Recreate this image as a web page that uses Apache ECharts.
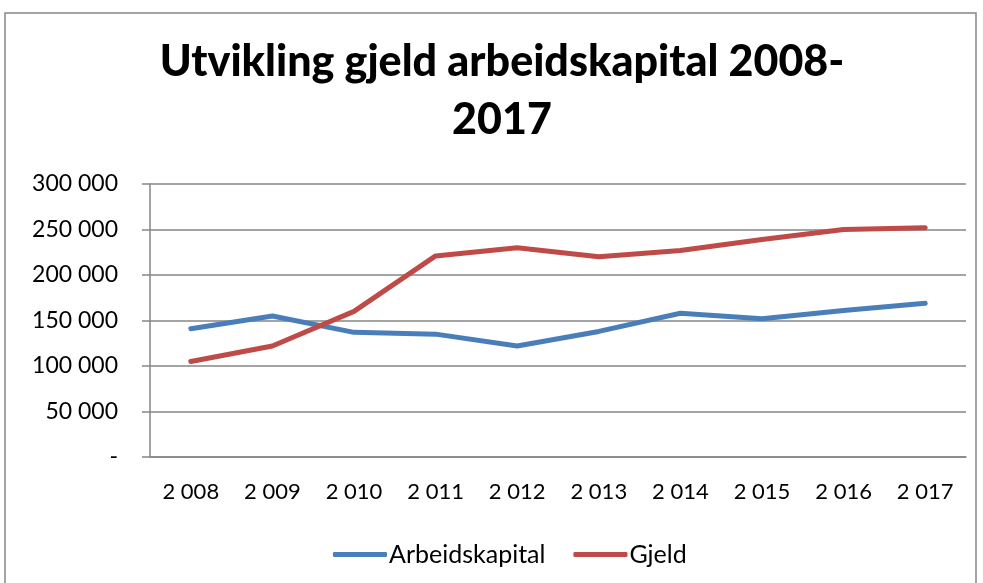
<!DOCTYPE html>
<html>
<head>
<meta charset="utf-8">
<script src="https://cdn.jsdelivr.net/npm/echarts@6/dist/echarts.min.js"></script>
<style>
  html, body { margin: 0; padding: 0; background: #fff; }
  #chart { width: 983px; height: 583px; }
</style>
</head>
<body>
<div id="chart"></div>
<script>
const years = [2008, 2009, 2010, 2011, 2012, 2013, 2014, 2015, 2016, 2017];
const arbeidskapital = [141000, 155000, 137000, 135000, 122000, 138000, 158000, 152000, 161000, 169000];
const gjeld = [105000, 122000, 160000, 221000, 230000, 220000, 227000, 239000, 250000, 252000];
const yTicks = [0, 50000, 100000, 150000, 200000, 250000, 300000];

// "2 008", "150 000" style spacing
const spaced = function(v) {
  return String(v).replace(/\B(?=(\d{3})+(?!\d))/g, " ");
};

const chart = echarts.init(document.getElementById("chart"));
const font = "Lato, 'Open Sans', sans-serif";
const grey = "#868686";

const option = {
  animation: false,
  backgroundColor: "#fff",
  textStyle: { fontFamily: font },
  graphic: [
    {
      type: "rect",
      shape: { x: 5, y: 13, width: 971, height: 600 },
      style: { fill: "none", stroke: grey, lineWidth: 1.5 }
    }
  ],
  title: {
    text: "Utvikling gjeld arbeidskapital 2008-\n2017",
    left: 502,
    top: 33,
    padding: 0,
    textAlign: "center",
    textStyle: {
      fontFamily: font,
      fontWeight: 900,
      fontSize: 43,
      lineHeight: 58,
      color: "#000"
    }
  },
  legend: {
    left: 328,
    top: 537,
    icon: "roundRect",
    itemWidth: 54,
    itemHeight: 5,
    itemGap: 28,
    textStyle: { fontFamily: font, fontSize: 25, color: "#000", padding: [0, 0, 0, -3] },
    data: ["Arbeidskapital", "Gjeld"]
  },
  grid: { left: 150, right: 17, top: 184, bottom: 126 },
  xAxis: {
    type: "category",
    data: years.map(spaced),
    boundaryGap: true,
    axisLine: { lineStyle: { color: grey, width: 1.5 } },
    axisTick: { length: 9, lineStyle: { color: grey, width: 1.5 } },
    axisLabel: { color: "#000", fontSize: 22, margin: 24, fontFamily: font }
  },
  yAxis: {
    type: "value",
    min: yTicks[0],
    max: yTicks[yTicks.length - 1],
    interval: 50000,
    axisLine: { show: true, lineStyle: { color: grey, width: 1.5 } },
    axisTick: { show: true, length: 8, lineStyle: { color: grey, width: 1.5 } },
    splitLine: { lineStyle: { color: grey, width: 1.5 } },
    axisLabel: {
      color: "#000",
      fontSize: 23,
      margin: 32,
      fontFamily: font,
      formatter: function(v) {
        return v === 0 ? "-" : spaced(v);
      }
    }
  },
  series: [
    {
      name: "Arbeidskapital",
      type: "line",
      data: arbeidskapital,
      symbol: "none",
      lineStyle: { color: "#4A7EBB", width: 5, cap: "round", join: "round" },
      itemStyle: { color: "#4A7EBB" }
    },
    {
      name: "Gjeld",
      type: "line",
      data: gjeld,
      symbol: "none",
      lineStyle: { color: "#BE4B48", width: 5, cap: "round", join: "round" },
      itemStyle: { color: "#BE4B48" }
    }
  ]
};

chart.setOption(option);
window.onresize = function() {
  chart.resize();
};
</script>
</body>
</html>
